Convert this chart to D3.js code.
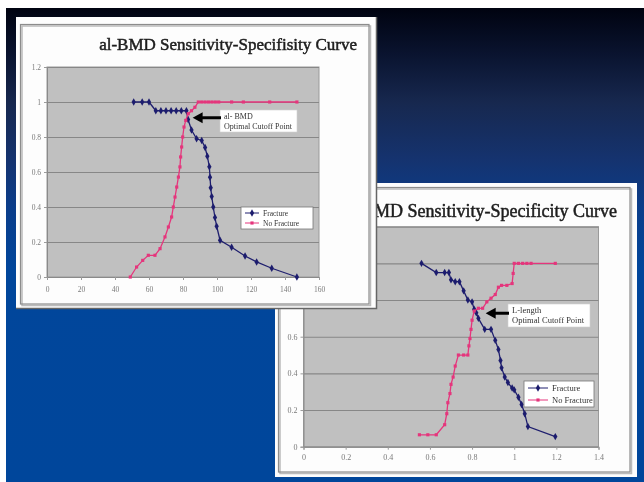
<!DOCTYPE html>
<html><head><meta charset="utf-8">
<script src="https://cdn.jsdelivr.net/npm/d3@7"></script>
<style>
html,body{margin:0;padding:0;background:#fff;}
svg{display:block;}
text{font-family:"Liberation Serif","Times New Roman",Times,serif;}
</style>
</head><body>
<svg id="c" width="644" height="482"></svg>
<script>
// ---------- DATA ----------
const c1Title = "al-BMD Sensitivity-Specifisity Curve";
const c2Title = "L-BMD Sensitivity-Specificity Curve";
const legendLabels = ["Fracture", "No Fracture"];
const c1Note = ["al- BMD", "Optimal Cutoff Point"];
const c2Note = ["L-length", "Optimal Cutoff Point"];

const c1XTicks = [0, 20, 40, 60, 80, 100, 120, 140, 160];
const c1XLabels = ["0", "20", "40", "60", "80", "100", "120", "140", "160"];
const c2XTicks = [0, 0.2, 0.4, 0.6, 0.8, 1, 1.2, 1.4];
const c2XLabels = ["0", "0.2", "0.4", "0.6", "0.8", "1", "1.2", "1.4"];
const yTicks = [0, 0.2, 0.4, 0.6, 0.8, 1, 1.2];
const yLabels = ["0", "0.2", "0.4", "0.6", "0.8", "1", "1.2"];

const c1FractureX = [51, 56, 60, 64, 67, 70, 73, 76, 79, 82, 83, 85, 88, 91, 93, 94.3, 95.5, 95.9, 96.3, 96.9, 97.8, 98.8, 99.8, 101.8, 108.6, 116.5, 123.3, 132.2, 147];
const c1FractureY = [1, 1, 1, 0.95, 0.95, 0.95, 0.95, 0.95, 0.95, 0.95, 0.9, 0.84, 0.79, 0.78, 0.74, 0.69, 0.63, 0.57, 0.51, 0.46, 0.40, 0.34, 0.29, 0.21, 0.17, 0.12, 0.086, 0.05, 0];
const c1NoFractureX = [49, 52.7, 56.3, 59.6, 63.5, 66.5, 69.4, 71.4, 73.3, 74.3, 75.3, 76.3, 77.3, 78.2, 78.6, 79.2, 79.8, 80.6, 81.6, 83.1, 85, 87, 89, 91, 93, 95, 97, 99, 101, 108.6, 115.5, 131, 147];
const c1NoFractureY = [0, 0.057, 0.095, 0.124, 0.124, 0.162, 0.229, 0.286, 0.343, 0.4, 0.457, 0.514, 0.571, 0.629, 0.686, 0.743, 0.8, 0.857, 0.895, 0.933, 0.95, 0.97, 1, 1, 1, 1, 1, 1, 1, 1, 1, 1, 1];

const c2FractureX = [0.56, 0.63, 0.67, 0.69, 0.70, 0.72, 0.74, 0.76, 0.78, 0.80, 0.81, 0.82, 0.83, 0.86, 0.89, 0.91, 0.925, 0.935, 0.94, 0.955, 0.97, 0.99, 1.0, 1.02, 1.035, 1.05, 1.065, 1.195];
const c2FractureY = [1.0, 0.95, 0.95, 0.95, 0.91, 0.90, 0.90, 0.85, 0.80, 0.79, 0.75, 0.73, 0.70, 0.64, 0.64, 0.58, 0.53, 0.47, 0.43, 0.38, 0.35, 0.32, 0.31, 0.27, 0.23, 0.18, 0.11, 0.055];
const c2NoFractureX = [0.55, 0.59, 0.63, 0.67, 0.68, 0.685, 0.695, 0.70, 0.71, 0.72, 0.735, 0.76, 0.78, 0.785, 0.79, 0.795, 0.80, 0.81, 0.83, 0.85, 0.87, 0.89, 0.91, 0.925, 0.94, 0.965, 0.99, 0.995, 1.0, 1.02, 1.04, 1.06, 1.08, 1.195];
const c2NoFractureY = [0.065, 0.065, 0.065, 0.12, 0.18, 0.24, 0.29, 0.34, 0.38, 0.44, 0.50, 0.50, 0.50, 0.55, 0.59, 0.64, 0.69, 0.74, 0.755, 0.755, 0.79, 0.81, 0.83, 0.87, 0.88, 0.88, 0.89, 0.945, 1.0, 1.0, 1.0, 1.0, 1.0, 1.0];

const c1Cutoff = [84.5, 0.91];
const c2Cutoff = [0.855, 0.728];

// ---------- DRAW ----------
const SERIF = '"Liberation Serif","Times New Roman",Times,serif';
const svg = d3.select("#c");
const W = 644, H = 482;
const navy = "#1f1f6e", pink = "#e5357c";

const defs = svg.append("defs");
const grad = defs.append("linearGradient").attr("id", "bg")
  .attr("gradientUnits", "userSpaceOnUse").attr("x1", 0).attr("y1", 8).attr("x2", 0).attr("y2", H);
[[0, "#000310"], [0.1, "#0a1430"], [0.2, "#17284f"], [0.32, "#15336f"], [0.42, "#0b3d8a"], [0.55, "#01469b"], [1, "#00469b"]]
  .forEach(s => grad.append("stop").attr("offset", s[0]).attr("stop-color", s[1]));
defs.append("filter").attr("id", "soft").attr("x", "-2%").attr("y", "-2%").attr("width", "104%").attr("height", "104%")
  .append("feGaussianBlur").attr("stdDeviation", 0.45);

svg.append("rect").attr("x", 0).attr("y", 0).attr("width", W).attr("height", H).attr("fill", "#ffffff");
svg.append("rect").attr("x", 6).attr("y", 8).attr("width", W - 6).attr("height", H - 8).attr("fill", "url(#bg)");

function zip(xs, ys) { return xs.map((v, i) => [v, ys[i]]); }

function drawChart(cfg) {
  const g = svg.append("g").attr("filter", "url(#soft)");
  const P = cfg.panel, F = cfg.frame, pl = cfg.plot;
  g.append("rect").attr("x", P.x).attr("y", P.y).attr("width", P.w).attr("height", P.h).attr("fill", "#fdfdfd");
  g.append("rect").attr("x", F.x + 1.5).attr("y", F.y + 1.5).attr("width", F.w).attr("height", F.h)
    .attr("fill", "none").attr("stroke", "#bbbbbb").attr("stroke-width", 1.5);
  g.append("rect").attr("x", F.x).attr("y", F.y).attr("width", F.w).attr("height", F.h)
    .attr("fill", "none").attr("stroke", "#8c8c8c").attr("stroke-width", 1.2);

  g.append("text").attr("x", cfg.titleX).attr("y", cfg.titleY).attr("text-anchor", "end")
    .attr("font-family", SERIF).attr("font-size", cfg.titleFs).attr("fill", "#1e1e1e")
    .attr("stroke", "#1e1e1e").attr("stroke-width", 0.5)
    .text(cfg.title);

  const x = d3.scaleLinear().domain(cfg.xDomain).range([pl.l, pl.r]);
  const y = d3.scaleLinear().domain([0, 1.2]).range([pl.b, pl.t]);

  g.append("rect").attr("x", pl.l).attr("y", pl.t).attr("width", pl.r - pl.l).attr("height", pl.b - pl.t)
    .attr("fill", "#c0c0c0").attr("stroke", "#9a9a9a").attr("stroke-width", 1);

  const grid = g.append("g").attr("transform", `translate(${pl.l},0)`)
    .call(d3.axisLeft(y).tickValues(yTicks).tickSize(-(pl.r - pl.l)).tickFormat(""));
  grid.select(".domain").remove();
  grid.selectAll("line").attr("stroke", "#878787").attr("stroke-width", 1.1);

  const yVals = cfg.hideY ? yTicks.filter(v => !cfg.hideY(y(v))) : yTicks;
  const ya = g.append("g").attr("transform", `translate(${pl.l},0)`)
    .call(d3.axisLeft(y).tickValues(yVals).tickSize(3).tickPadding(cfg.yPad)
      .tickFormat(d => yLabels[yTicks.indexOf(d)]));
  ya.attr("font-family", SERIF);
  ya.select(".domain").attr("stroke", "#8a8a8a");
  ya.selectAll("line").attr("stroke", "#9a9a9a");
  ya.selectAll("text").attr("font-family", SERIF).attr("font-size", cfg.tickFont).attr("fill", "#7a7a7a");

  const xa = g.append("g").attr("transform", `translate(0,${pl.b})`)
    .call(d3.axisBottom(x).tickValues(cfg.xTicks).tickSize(3).tickPadding(cfg.xPad).tickFormat((d, i) => cfg.xLabels[i]));
  xa.attr("font-family", SERIF);
  xa.select(".domain").attr("stroke", "#8a8a8a");
  xa.selectAll("line").attr("stroke", "#9a9a9a");
  xa.selectAll("text").attr("font-family", SERIF).attr("font-size", cfg.tickFont).attr("fill", "#7a7a7a");

  const line = d3.line().x(d => x(d[0])).y(d => y(d[1]));
  const series = [
    { data: zip(cfg.fx, cfg.fy), color: navy, sym: d3.symbolDiamond, size: 16 },
    { data: zip(cfg.nx, cfg.ny), color: pink, sym: d3.symbolSquare, size: 10 }
  ];
  series.forEach(s => {
    g.append("path").datum(s.data).attr("d", line).attr("fill", "none")
      .attr("stroke", s.color).attr("stroke-width", 1.3);
    g.append("g").selectAll("path").data(s.data).join("path")
      .attr("transform", d => `translate(${x(d[0])},${y(d[1])})`)
      .attr("d", d3.symbol().type(s.sym).size(s.size)).attr("fill", s.color);
  });

  const L = cfg.legend;
  g.append("rect").attr("x", L.x).attr("y", L.y).attr("width", L.w).attr("height", L.h)
    .attr("fill", "#ffffff").attr("stroke", "#777").attr("stroke-width", 0.8);
  series.forEach((s, i) => {
    const ly = L.y + L.h * (i + 0.5) / 2 + (i === 0 ? 0.5 : -0.5);
    g.append("line").attr("x1", L.x + 4).attr("x2", L.x + 4 + L.sw).attr("y1", ly).attr("y2", ly)
      .attr("stroke", s.color).attr("stroke-width", 1);
    g.append("path").attr("transform", `translate(${L.x + 4 + L.sw / 2},${ly})`)
      .attr("d", d3.symbol().type(s.sym).size(s.size)).attr("fill", s.color);
    g.append("text").attr("x", L.x + 8 + L.sw).attr("y", ly).attr("dy", "0.35em")
      .attr("font-family", SERIF).attr("font-size", L.fs).attr("fill", "#333").text(legendLabels[i]);
  });

  const A = cfg.note;
  const tipX = x(cfg.cutoff[0]) + 2, tipY = y(cfg.cutoff[1]);
  g.append("rect").attr("x", A.x).attr("y", A.y).attr("width", A.w).attr("height", A.h)
    .attr("fill", "#ffffff").attr("stroke", "#d0d0d0").attr("stroke-width", 0.6);
  cfg.noteText.forEach((t, i) => {
    g.append("text").attr("x", A.x + 4).attr("y", A.y + 8.5 + i * 10)
      .attr("font-family", SERIF).attr("font-size", A.fs).attr("fill", "#333").text(t);
  });
  g.append("line").attr("x1", tipX + 8).attr("x2", A.x + 1).attr("y1", tipY).attr("y2", tipY)
    .attr("stroke", "#000").attr("stroke-width", 3);
  g.append("path").attr("d", `M${tipX},${tipY} L${tipX + 10},${tipY - 5.5} L${tipX + 10},${tipY + 5.5} Z`).attr("fill", "#000");
  return g;
}

const front = { x: 16, y: 17, w: 361, h: 292 };

drawChart({
  panel: { x: 275, y: 183, w: 362, h: 294 },
  frame: { x: 278.5, y: 187.5, w: 351.5, h: 284.5 },
  plot: { l: 303.5, r: 598.5, t: 226.7, b: 446.7 },
  title: c2Title, titleX: 617, titleY: 217, titleFs: 18,
  xDomain: [0, 1.4], xTicks: c2XTicks, xLabels: c2XLabels, xPad: 5, yPad: 3, tickFont: 8,
  hideY: py => py < front.y + front.h + 2,
  fx: c2FractureX, fy: c2FractureY, nx: c2NoFractureX, ny: c2NoFractureY,
  legend: { x: 524, y: 381, w: 70, h: 26, sw: 20, fs: 8.5 },
  note: { x: 508, y: 304, w: 82, h: 23, fs: 8.5 },
  noteText: c2Note, cutoff: c2Cutoff
});

drawChart({
  panel: front,
  frame: { x: 20.5, y: 24.5, w: 348.5, h: 279.5 },
  plot: { l: 47, r: 319, t: 67, b: 277 },
  title: c1Title, titleX: 357, titleY: 50, titleFs: 17,
  xDomain: [0, 160], xTicks: c1XTicks, xLabels: c1XLabels, xPad: 7, yPad: 3, tickFont: 7.5,
  fx: c1FractureX, fy: c1FractureY, nx: c1NoFractureX, ny: c1NoFractureY,
  legend: { x: 241, y: 207, w: 72, h: 22, sw: 14, fs: 7.5 },
  note: { x: 220, y: 110, w: 77, h: 22, fs: 8 },
  noteText: c1Note, cutoff: c1Cutoff
});
svg.append("path").attr("d", "M376.5,17 V308.5 H16").attr("fill", "none").attr("stroke", "#666").attr("stroke-width", 1.5);
</script>
</body></html>
